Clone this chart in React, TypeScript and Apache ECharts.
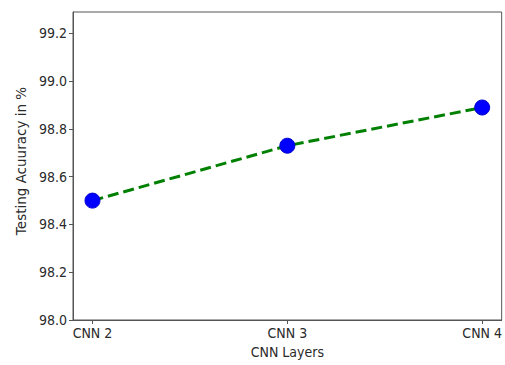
import React, { useEffect, useRef } from "react";
import * as echarts from "echarts";

const categories = ["CNN 2", "CNN 3", "CNN 4"];
const accuracy = [98.5, 98.73, 98.89];
const yTicks = [98.0, 98.2, 98.4, 98.6, 98.8, 99.0, 99.2];

const hFont = "'DejaVu Sans Condensed', 'DejaVu Sans', sans-serif";
const vFont = "'DejaVu Sans', sans-serif";

export default function App() {
  const ref = useRef<HTMLDivElement>(null);
  useEffect(() => {
    if (!ref.current) return;
    const chart = echarts.init(ref.current, null, { renderer: "svg" });
    const idx = categories.map((_, i) => i);
    chart.setOption({
      animation: false,
      backgroundColor: "#fff",
      grid: {
        left: 73,
        right: 2,
        top: 12,
        bottom: 45,
        show: true,
        borderColor: "#555",
        borderWidth: 1,
        backgroundColor: "transparent",
      },
      xAxis: {
        type: "value",
        min: -0.1,
        max: 2.1,
        name: "CNN Layers",
        nameLocation: "middle",
        nameGap: 24,
        nameTextStyle: { fontFamily: hFont, fontSize: 14, color: "#2a2a2a" },
        axisLine: { show: true, onZero: false, lineStyle: { color: "#555", width: 1 } },
        axisTick: {
          show: true,
          length: 4,
          inside: false,
          customValues: idx,
          lineStyle: { color: "#555" },
        },
        axisLabel: {
          customValues: idx,
          margin: 6,
          fontFamily: hFont,
          fontSize: 14,
          color: "#2a2a2a",
          formatter: (v: number) => categories[Math.round(v)] ?? "",
        },
        splitLine: { show: false },
      },
      yAxis: {
        type: "value",
        min: 98,
        max: 99.29,
        name: "Testing Acuuracy in %",
        nameLocation: "middle",
        nameRotate: 90,
        nameGap: 45,
        nameTextStyle: { fontFamily: vFont, fontSize: 13.5, color: "#2a2a2a", padding: [0, 0, 0, 10] },
        axisLine: { show: true, onZero: false, lineStyle: { color: "#555", width: 1 } },
        axisTick: {
          show: true,
          length: 4,
          customValues: yTicks,
          lineStyle: { color: "#555" },
        },
        axisLabel: {
          customValues: yTicks,
          margin: 6,
          fontFamily: hFont,
          fontSize: 14,
          color: "#2a2a2a",
          formatter: (v: number) => v.toFixed(1),
        },
        splitLine: { show: false },
      },
      series: [
        {
          type: "line",
          data: accuracy.map((v, i) => [i, v]),
          lineStyle: { color: "#008000", width: 3, type: [11, 5] },
          symbol: "circle",
          symbolSize: 15,
          itemStyle: { color: "#0000ff", borderColor: "#0000cc", borderWidth: 1 },
          z: 3,
        },
      ],
    });
    return () => chart.dispose();
  }, []);
  return (
    <div
      ref={ref}
      style={{ position: "fixed", left: 0, top: 0, width: 505, height: 365 }}
    />
  );
}
